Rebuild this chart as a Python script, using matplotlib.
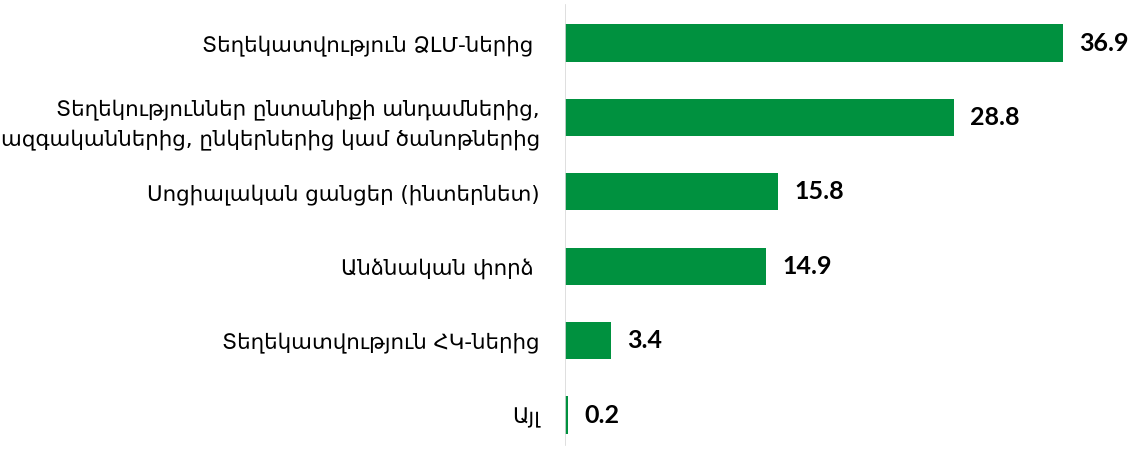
import matplotlib.pyplot as plt

labels = ["Տեղեկատվություն ՁԼՄ-ներից ",
          "Տեղեկություններ ընտանիքի անդամներից,\nազգականներից, ընկերներից կամ ծանոթներից",
          "Սոցիալական ցանցեր (ինտերնետ)",
          "Անձնական փորձ ",
          "Տեղեկատվություն ՀԿ-ներից",
          "Այլ"]
values = [36.9, 28.8, 15.8, 14.9, 3.4, 0.2]

green = "#00913F"

fig = plt.figure(figsize=(11.43, 4.5), dpi=100)
ax = fig.add_axes([565/1143, 0, 578/1143, 1])

pos = list(range(len(values)))
ax.barh(pos, values, height=0.5, color=green)
ax.set_ylim(5.47, -0.578)
ax.set_xlim(0, 42.8)

for p, v in zip(pos, values):
    ax.text(v + 1.2, p, f"{v:.1f}", va="center", ha="left",
            fontsize=18, fontweight="bold", family=["Lato", "DejaVu Sans"])

ax.set_yticks(pos)
ax.set_yticklabels(labels, fontsize=15.4, family=["DejaVu Sans"], linespacing=1.55)
ax.tick_params(axis="y", length=0, pad=18)
ax.set_xticks([])
for s in ax.spines.values():
    s.set_visible(False)
ax.axvline(0, ymin=5/450, ymax=445/450, color="#d9d9d9", lw=1.2)

plt.savefig("out.png", dpi=100)
